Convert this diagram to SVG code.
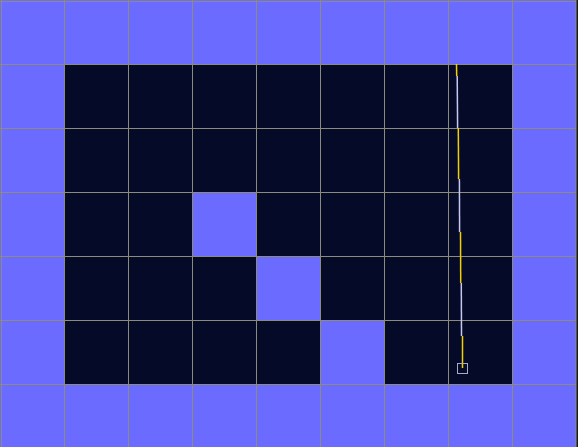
<svg xmlns="http://www.w3.org/2000/svg" width="578" height="447" viewBox="0 0 578 447">
<style>
.b{fill:#6b6bff}
.d{fill:#050a28}
.g{stroke:#8c8c7c;stroke-width:1;fill:none}
.y{stroke:#f2d000;stroke-width:1.5}
.l{stroke:#c8c8ee;stroke-width:1.5}
</style>
<rect x="0" y="0" width="578" height="447" class="b"/>
<rect x="576" y="0" width="2" height="447" fill="#1a1a22"/>
<g id="dark">
<rect x="64" y="64" width="448" height="320" class="d"/>
</g>
<g id="blue-cells">
<rect x="192" y="192" width="64" height="64" class="b"/>
<rect x="256" y="256" width="64" height="64" class="b"/>
<rect x="320" y="320" width="64" height="64" class="b"/>
</g>
<g id="grid" class="g">
<path d="M1.5 0V447M64.5 0V447M128.5 0V447M192.5 0V447M256.5 0V447M320.5 0V447M384.5 0V447M448.5 0V447M512.5 0V447M576 0V447"/>
<path d="M0 1.5H576M0 64.5H576M0 128.5H576M0 192.5H576M0 256.5H576M0 320.5H576M0 384.5H576"/>
</g>
<g id="path">
<line x1="456.5" y1="64" x2="456.7" y2="76" class="y"/>
<line x1="457.2" y1="76" x2="457.6" y2="128" class="l"/>
<line x1="458.3" y1="128" x2="458.6" y2="179" class="y"/>
<line x1="459.4" y1="179" x2="459.6" y2="232" class="l"/>
<line x1="460.5" y1="232" x2="460.7" y2="283" class="y"/>
<line x1="461.3" y1="283" x2="461.5" y2="336" class="l"/>
<line x1="462.5" y1="336" x2="462.5" y2="368" class="y"/>
<rect x="457.5" y="363.5" width="10" height="10" fill="none" stroke="#a8a8cc" stroke-width="1"/>
</g>
</svg>
